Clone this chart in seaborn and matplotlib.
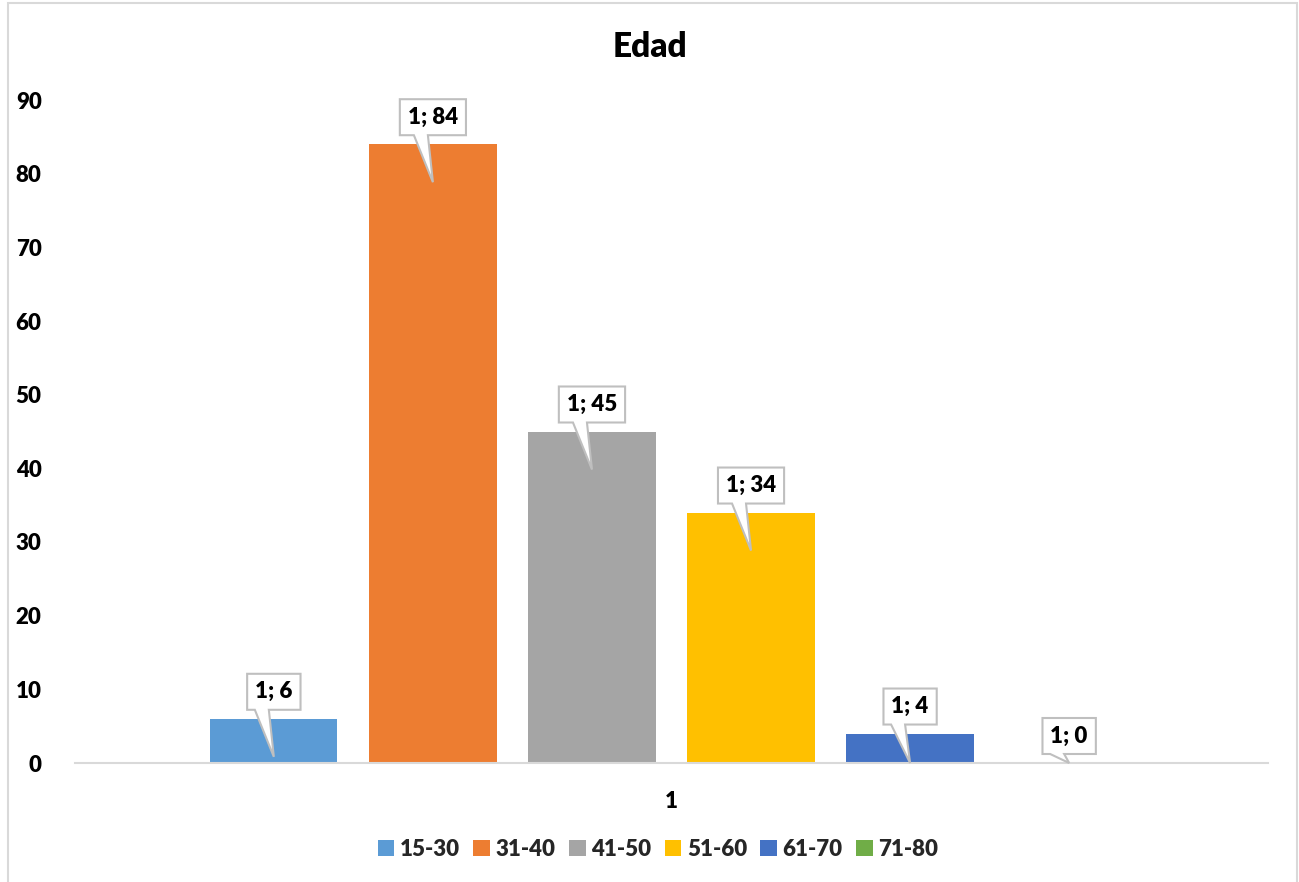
import matplotlib
matplotlib.use("Agg")
import matplotlib.pyplot as plt
import matplotlib.transforms as mtransforms
from matplotlib.patches import Polygon, Rectangle
import seaborn as sns
import pandas as pd

# Data
grupos = ["1"] * 6
edades = ["15-30", "31-40", "41-50", "51-60", "61-70", "71-80"]
valores = [6, 84, 45, 34, 4, 0]
colores = ["#5B9BD5", "#ED7D31", "#A5A5A5", "#FFC000", "#4472C4", "#70AD47"]
yticks = [0, 10, 20, 30, 40, 50, 60, 70, 80, 90]

df = pd.DataFrame({"grupo": grupos, "edad": edades, "valor": valores})

sns.set_theme(style="white")
plt.rcParams["font.family"] = ["Lato", "DejaVu Sans"]

W, H, DPI = 1299, 882, 100
FS = 16
fig = plt.figure(figsize=(W / DPI, H / DPI), dpi=DPI)
ax = fig.add_axes([75 / W, 1 - 763 / H, (1268 - 75) / W, (763 - 100) / H])

sns.barplot(data=df, x="grupo", y="valor", hue="edad", hue_order=edades,
            palette=colores, width=0.8, gap=0.2, saturation=1,
            linewidth=0, ax=ax)

ax.set_xlim(-0.5, 0.5)
ax.set_ylim(0, 90)
ax.set_yticks(yticks)
ax.set_xlabel("")
ax.set_ylabel("")
for s in ["top", "right", "left"]:
    ax.spines[s].set_visible(False)
ax.spines["bottom"].set_color("#d9d9d9")
ax.spines["bottom"].set_linewidth(1.5)
ax.tick_params(axis="both", length=0, labelsize=FS, labelcolor="black")
ax.tick_params(axis="y", pad=24)
ax.tick_params(axis="x", pad=20)
for lab in ax.get_xticklabels() + ax.get_yticklabels():
    lab.set_fontweight("heavy")

fig.text(0.5, 1 - 47 / H, "Edad", ha="center", va="center",
         fontsize=24, fontweight="heavy", color="black")

sns.move_legend(ax, "center", bbox_to_anchor=(658 / W, 1 - 849 / H),
                bbox_transform=fig.transFigure, ncol=6, frameon=False,
                title=None, handlelength=0.75, handleheight=0.75,
                handletextpad=0.25, columnspacing=0.6,
                prop={"weight": "heavy", "size": FS})

# Callout labels above each bar (positions in display pixels)
fig.canvas.draw()
renderer = fig.canvas.get_renderer()
pix = mtransforms.IdentityTransform()
box_bottom, box_h = 9, 36
for cont, val in zip(ax.containers, valores):
    bar = cont.patches[0]
    cx = bar.get_x() + bar.get_width() / 2
    px, py = ax.transData.transform((cx, val))
    _, p0 = ax.transData.transform((cx, 0))
    tip = min(38, py - p0)
    txt = fig.text(px, py + box_bottom + box_h / 2, f"1; {val}", transform=pix,
                   ha="center", va="center", fontsize=FS, fontweight="heavy",
                   color="black", zorder=7)
    tw = txt.get_window_extent(renderer).width
    hw = tw / 2 + 8
    verts = [(-hw, box_bottom), (-hw, box_bottom + box_h), (hw, box_bottom + box_h),
             (hw, box_bottom), (-5, box_bottom), (0, -tip), (-19, box_bottom)]
    poly = Polygon(verts, closed=True, facecolor="white", edgecolor="#bfbfbf",
                   linewidth=1.5, zorder=5, clip_on=False,
                   transform=mtransforms.Affine2D().translate(px, py))
    fig.add_artist(poly)

# Chart area border
fig.add_artist(Rectangle((8 / W, -0.02), (1297 - 8) / W, 1.02 - 3 / H,
                         transform=fig.transFigure, fill=False,
                         edgecolor="#d9d9d9", linewidth=1.5))

fig.savefig("out.png", dpi=DPI)
